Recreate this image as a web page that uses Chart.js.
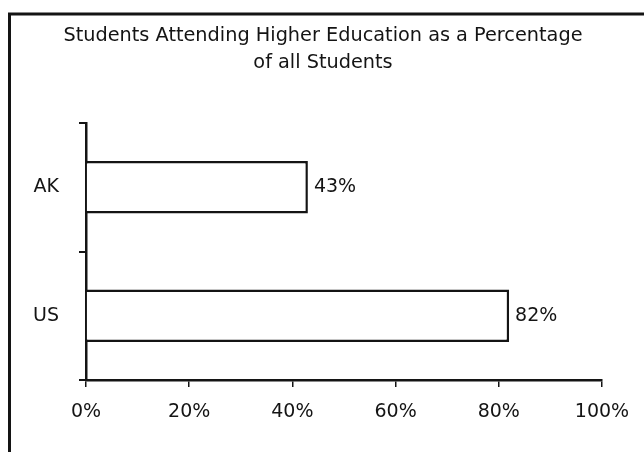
<!DOCTYPE html>
<html>
<head>
<meta charset="utf-8">
<script src="https://cdn.jsdelivr.net/npm/chart.js@4.4.1/dist/chart.umd.min.js"></script>
<style>
  html, body { margin:0; padding:0; background:#fff; }
  #wrap { position:relative; width:644px; height:452px; }
</style>
</head>
<body>
<div id="wrap"><canvas id="c" width="644" height="452"></canvas></div>
<script>
const titleLines = ["Students Attending Higher Education as a Percentage", "of all Students"];
const categories = ["AK", "US"];
const values = [43, 82];
const xTicks = [0, 20, 40, 60, 80, 100];

const FONT = "'DejaVu Sans', 'Liberation Sans', Arial, sans-serif";
const INK = "#141414";

const framePlugin = {
  id: 'frame',
  beforeDraw(chart) {
    const ctx = chart.ctx;
    ctx.save();
    ctx.fillStyle = '#fff';
    ctx.fillRect(0, 0, chart.width, chart.height);
    ctx.strokeStyle = INK;
    ctx.lineWidth = 3;
    ctx.beginPath();
    ctx.moveTo(9.5, chart.height + 5);
    ctx.lineTo(9.5, 14);
    ctx.lineTo(chart.width + 5, 14);
    ctx.stroke();
    // title, centred on the whole frame
    ctx.font = "19.3px " + FONT;
    ctx.fillStyle = INK;
    ctx.textAlign = 'center';
    ctx.textBaseline = 'middle';
    titleLines.forEach((t, i) => ctx.fillText(t, 323, 36 + i * 27));
    ctx.restore();
  }
};

const labelPlugin = {
  id: 'valueLabels',
  afterDatasetsDraw(chart) {
    const ctx = chart.ctx;
    ctx.save();
    ctx.font = "19px " + FONT;
    ctx.fillStyle = INK;
    ctx.textAlign = 'left';
    ctx.textBaseline = 'middle';
    const meta = chart.getDatasetMeta(0);
    meta.data.forEach((el, i) => {
      ctx.fillText(values[i] + '%', el.x + 6, el.y);
    });
    ctx.restore();
  }
};

new Chart(document.getElementById('c'), {
  type: 'bar',
  data: {
    labels: categories,
    datasets: [{
      data: values,
      backgroundColor: '#ffffff',
      borderColor: INK,
      borderWidth: 2.5,
      categoryPercentage: 1,
      barPercentage: 0.41
    }]
  },
  options: {
    indexAxis: 'y',
    responsive: false,
    animation: false,
    devicePixelRatio: 1,
    layout: { padding: { left: 0, right: 42, top: 123, bottom: 0 } },
    plugins: {
      legend: { display: false },
      tooltip: { enabled: false },
      title: { display: false }
    },
    scales: {
      x: {
        type: 'linear',
        min: 0,
        max: 100,
        afterBuildTicks(scale) { scale.ticks = xTicks.map(v => ({ value: v })); },
        afterFit(scale) { scale.height = 72; },
        border: { display: true, color: INK, width: 2.5 },
        grid: { display: true, drawOnChartArea: false, drawTicks: true, tickLength: 7, color: INK, lineWidth: 1.5 },
        ticks: {
          color: INK,
          padding: 14,
          maxRotation: 0,
          font: { family: FONT, size: 19 },
          callback: v => v + '%'
        }
      },
      y: {
        afterFit(scale) { scale.width = 86; },
        border: { display: true, color: INK, width: 2.5 },
        grid: { display: true, offset: true, drawOnChartArea: false, drawTicks: true, tickLength: 7, color: INK, lineWidth: 2 },
        ticks: {
          color: INK,
          padding: 20,
          font: { family: FONT, size: 19 }
        }
      }
    }
  },
  plugins: [framePlugin, labelPlugin]
});
</script>
</body>
</html>
